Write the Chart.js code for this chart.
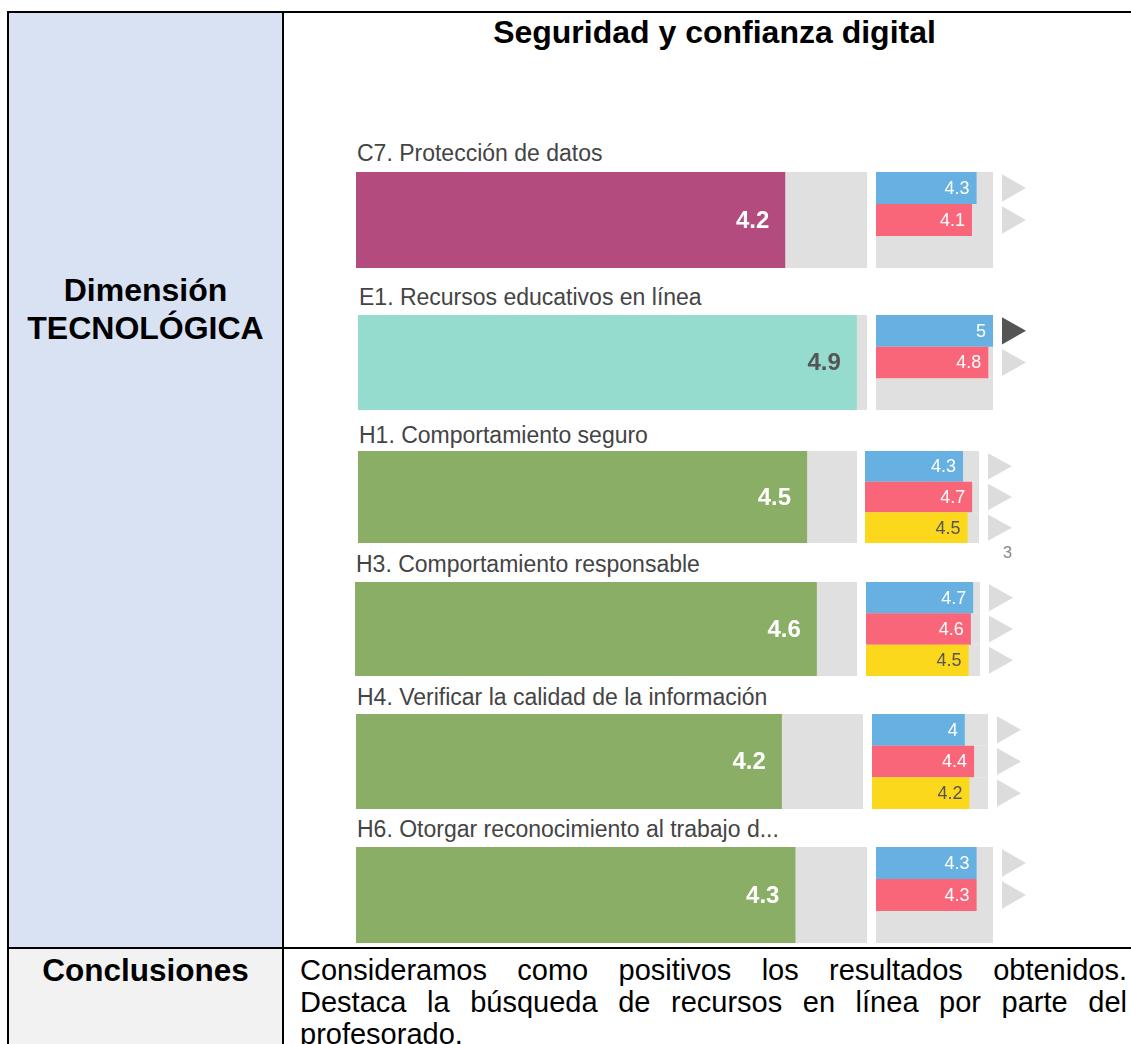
<!DOCTYPE html>
<html><head><meta charset="utf-8">
<script src="https://cdn.jsdelivr.net/npm/chart.js@4.4.1/dist/chart.umd.min.js"></script>
<style>
html,body{margin:0;padding:0;background:#fff;width:1131px;height:1044px;overflow:hidden;font-family:Arial,"Liberation Sans",sans-serif;}
.abs{position:absolute;}
.ln{position:absolute;background:#000;}
.lbl{position:absolute;font-size:23px;line-height:26px;color:#444;white-space:nowrap;}
canvas{display:block;}
</style></head>
<body>
<div class="abs" style="left:9px;top:13px;width:273px;height:934px;background:#d9e2f3"></div>
<div class="abs" style="left:9px;top:949px;width:273px;height:95px;background:#f2f2f2"></div>
<div class="ln" style="left:7px;top:11px;width:1124px;height:2px"></div>
<div class="ln" style="left:7px;top:11px;width:2px;height:1033px"></div>
<div class="ln" style="left:282px;top:11px;width:2px;height:1033px"></div>
<div class="ln" style="left:7px;top:947px;width:1124px;height:2px"></div>

<div class="abs" id="title" style="left:284px;top:14px;width:861px;text-align:center;font-weight:bold;font-size:32px;line-height:36px;color:#000"></div>
<div class="abs" id="dim" style="left:9px;top:271px;width:273px;text-align:center;font-weight:bold;font-size:32px;line-height:38px;color:#000"></div>
<div class="abs" id="conclT" style="left:9px;top:954px;width:273px;text-align:center;font-weight:bold;font-size:31.5px;line-height:32px;color:#000"></div>
<div class="abs" id="conclX" style="left:300px;top:954px;width:827px;text-align:justify;font-size:29px;line-height:32px;color:#000"></div>
<div class="abs" id="stray" style="left:1003px;top:544px;font-size:16px;color:#888">3</div>
<div id="charts"></div>

<script>
// ---- text ----
const chartTitle = 'Seguridad y confianza digital';
const dimensionLines = ['Dimensión', 'TECNOLÓGICA'];
const conclusionsTitle = 'Conclusiones';
const conclusionsText = 'Consideramos como positivos los resultados obtenidos. Destaca la búsqueda de recursos en línea por parte del profesorado.';

// ---- data ----
const categories = [
  'C7. Protección de datos',
  'E1. Recursos educativos en línea',
  'H1. Comportamiento seguro',
  'H3. Comportamiento responsable',
  'H4. Verificar la calidad de la información',
  'H6. Otorgar reconocimiento al trabajo d...'
];
const overallValues = [4.2, 4.9, 4.5, 4.6, 4.2, 4.3];
const directivos   = [4.3, 5,   4.3, 4.7, 4,   4.3];
const profesorado  = [4.1, 4.8, 4.7, 4.6, 4.4, 4.3];
const alumnado     = [null, null, 4.5, 4.5, 4.2, null];
const scaleMax = 5;
const highlightedMarkers = [[], [0], [], [], [], []];

// ---- layout / style (not data) ----
const labelPos = [[357,153],[359,297],[359,435],[356,564],[357,697],[357,829]];
const mainBox  = [[356,172,511,96],[358,315,509,95],[358,451,499,92],[355,582,502,94],[356,714,507,95],[356,847,511,96]];
const smallBox = [[876,172,117,96],[876,315,117,95],[865,451,114,92],[866,582,114,94],[872,714,116,95],[876,847,117,96]];
const MAGENTA = '#b34b7f', TEAL = '#95dcce', GREEN = '#8aae65';
const mainColors = [MAGENTA, TEAL, GREEN, GREEN, GREEN, GREEN];
const mainTextColors = ['#ffffff', '#555555', '#ffffff', '#ffffff', '#ffffff', '#ffffff'];
const TRACK = '#e0e0e0';
const seriesColors = ['#67b1e2', '#f9667a', '#fbd81c'];
const seriesTextColors = ['#ffffff', '#ffffff', '#555555'];
const MARKER_PAD = 40;

document.getElementById('title').textContent = chartTitle;
document.getElementById('dim').innerHTML = dimensionLines.map(s => '<div>' + s + '</div>').join('');
document.getElementById('conclT').textContent = conclusionsTitle;
document.getElementById('conclX').textContent = conclusionsText;

const holder = document.getElementById('charts');

function makeCanvas(x, y, w, h) {
  const c = document.createElement('canvas');
  c.width = w; c.height = h;
  c.style.position = 'absolute';
  c.style.left = x + 'px'; c.style.top = y + 'px';
  c.style.width = w + 'px'; c.style.height = h + 'px';
  holder.appendChild(c);
  return c;
}

function valueLabels(fontSpec, colors, pad) {
  return {
    id: 'valueLabels',
    afterDatasetsDraw(chart) {
      const meta = chart.getDatasetMeta(0);
      const ds = chart.data.datasets[0].data;
      const ctx = chart.ctx;
      ctx.save();
      ctx.font = fontSpec;
      ctx.textAlign = 'right';
      ctx.textBaseline = 'middle';
      meta.data.forEach((el, i) => {
        const v = ds[i];
        if (v === null || v === undefined) return;
        ctx.fillStyle = colors[i % colors.length];
        ctx.fillText(String(v), el.x - pad, el.y + 1);
      });
      ctx.restore();
    }
  };
}

function markers(highlights) {
  return {
    id: 'markers',
    afterDatasetsDraw(chart) {
      const meta = chart.getDatasetMeta(0);
      const ds = chart.data.datasets[0].data;
      const ctx = chart.ctx;
      const x0 = chart.chartArea.right + 9;
      meta.data.forEach((el, i) => {
        if (ds[i] === null || ds[i] === undefined) return;
        const h = el.height * 0.86;
        ctx.save();
        ctx.fillStyle = highlights.includes(i) ? '#555555' : '#dcdcdc';
        ctx.beginPath();
        ctx.moveTo(x0, el.y - h / 2);
        ctx.lineTo(x0 + 24, el.y);
        ctx.lineTo(x0, el.y + h / 2);
        ctx.closePath();
        ctx.fill();
        ctx.restore();
      });
    }
  };
}

const baseOptions = (padRight) => ({
  indexAxis: 'y',
  responsive: false,
  animation: false,
  events: [],
  layout: { padding: { left: 0, right: padRight, top: 0, bottom: 0 } },
  scales: {
    x: { display: false, min: 0, max: scaleMax },
    y: { display: false }
  },
  plugins: { legend: { display: false }, tooltip: { enabled: false }, title: { display: false } }
});

categories.forEach((cat, i) => {
  const l = document.createElement('div');
  l.className = 'lbl';
  l.style.left = labelPos[i][0] + 'px';
  l.style.top = (labelPos[i][1] - 13) + 'px';
  l.textContent = cat;
  holder.appendChild(l);

  const [mx, my, mw, mh] = mainBox[i];
  new Chart(makeCanvas(mx, my, mw, mh), {
    type: 'bar',
    data: {
      labels: [cat],
      datasets: [
        { data: [overallValues[i]], backgroundColor: mainColors[i], grouped: false, order: 1, barPercentage: 1, categoryPercentage: 1, inflateAmount: 0 },
        { data: [scaleMax], backgroundColor: TRACK, grouped: false, order: 2, barPercentage: 1, categoryPercentage: 1, inflateAmount: 0 }
      ]
    },
    options: baseOptions(0),
    plugins: [valueLabels('bold 24px Arial, "Liberation Sans", sans-serif', [mainTextColors[i]], 16)]
  });

  const [sx, sy, sw, sh] = smallBox[i];
  const vals = [directivos[i], profesorado[i], alumnado[i]];
  new Chart(makeCanvas(sx, sy, sw + MARKER_PAD, sh), {
    type: 'bar',
    data: {
      labels: ['Directivos', 'Profesorado', 'Alumnado'],
      datasets: [
        { data: vals, backgroundColor: seriesColors, grouped: false, order: 1, barPercentage: 1, categoryPercentage: 1, inflateAmount: 0 },
        { data: [scaleMax, scaleMax, scaleMax], backgroundColor: TRACK, grouped: false, order: 2, barPercentage: 1, categoryPercentage: 1, inflateAmount: 0 }
      ]
    },
    options: baseOptions(MARKER_PAD),
    plugins: [valueLabels('18px Arial, "Liberation Sans", sans-serif', seriesTextColors, 7), markers(highlightedMarkers[i])]
  });
});
</script>
</body></html>
